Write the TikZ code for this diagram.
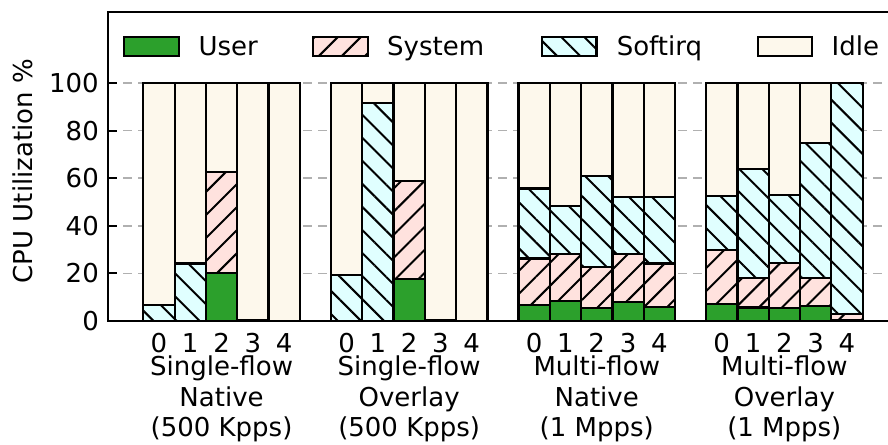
\documentclass[tikz,border=0pt]{standalone}
\usepackage{fontspec}
\setmainfont{DejaVu Sans}
\usetikzlibrary{patterns.meta}

\definecolor{cuser}{HTML}{2CA02C}
\definecolor{csys}{HTML}{FFE2DE}
\definecolor{csoft}{HTML}{E0FFFF}
\definecolor{cidle}{HTML}{FDF8EC}
\definecolor{cgrid}{HTML}{B0B0B0}

\tikzset{
  seg/.style={draw=black, line width=2.2pt},
  usrbar/.style={seg, fill=cuser},
  sysbar/.style={seg, preaction={fill=csys},
    preaction={pattern={Lines[angle=45,distance=16.3pt,line width=2pt]}, pattern color=black}},
  softbar/.style={seg, preaction={fill=csoft},
    preaction={pattern={Lines[angle=-45,distance=16.3pt,line width=2pt]}, pattern color=black}},
  idlebar/.style={seg, fill=cidle},
  gridline/.style={draw=cgrid, line width=1.6pt, dash pattern=on 9pt off 6pt},
  ytick/.style={draw=black, line width=2pt},
  spine/.style={draw=black, line width=2pt},
  lbl/.style={inner sep=0pt},
}

\begin{document}
\begin{tikzpicture}[x=1pt, y=1pt, font=\fontsize{26}{30}\selectfont]
\useasboundingbox (0,0) rectangle (888,444);

% plot area in data units: x in pt, y in percent
\begin{scope}[yshift=123pt, y=2.38pt]
  % horizontal grid
  \foreach \v in {20,40,60,80,100}
    \draw[gridline] (108,\v) -- (888,\v);

  % stacked bars: group / core / user top / system top / softirq top
  \foreach \g/\b/\u/\s/\q in {
      0/0/0/0/6.7, 0/1/0/0/24.2, 0/2/20.3/62.7/62.7, 0/3/0.5/0.5/0.5, 0/4/0/0/0,
      1/0/0/0/19.3, 1/1/0/0/91.5, 1/2/17.5/58.8/58.8, 1/3/0.3/0.3/0.3, 1/4/0/0/0,
      2/0/6.7/26.3/55.7, 2/1/8.5/28/48.3, 2/2/5.3/22.8/60.9, 2/3/8.1/28.2/52, 2/4/6/24.2/52.2,
      3/0/7.1/29.8/52.5, 3/1/5.7/17.9/63.7, 3/2/5.5/24.5/52.9, 3/3/6.3/17.9/74.7, 3/4/0.5/2.8/100}
  {
    \pgfmathsetmacro\xl{143.3+187.6*\g+31.3*\b}
    \pgfmathsetmacro\xr{\xl+31.3}
    \draw[usrbar]  (\xl,0)  rectangle (\xr,\u);
    \draw[sysbar]  (\xl,\u) rectangle (\xr,\s);
    \draw[softbar] (\xl,\s) rectangle (\xr,\q);
    \draw[idlebar] (\xl,\q) rectangle (\xr,100);
    \node[lbl, anchor=base] (core\g\b) at ({\xl+15.65},-13.4) {\b};
  }

  % y ticks and labels
  \foreach \v in {0,20,40,60,80,100} {
    \draw[ytick] (108,\v) -- (117,\v);
    \node[lbl, anchor=east] (yt\v) at (99,\v) {\v};
  }
\end{scope}

% axes frame
\draw[spine] (890,432) -- (108,432) -- (108,123) -- (890,123);

% axis title
\node[lbl, rotate=90] (ylab) at (23,273) {CPU Utilization \%};

% group captions
\foreach \g/\la/\lb/\lc in {
    0/Single-flow/Native/(500 Kpps),
    1/Single-flow/Overlay/(500 Kpps),
    2/Multi-flow/Native/(1 Mpps),
    3/Multi-flow/Overlay/(1 Mpps)}
{
  \pgfmathsetmacro\xc{143.3+187.6*\g+78.25}
  \node[lbl, anchor=base] (ga\g) at (\xc,68) {\la};
  \node[lbl, anchor=base] (gb\g) at (\xc,37.8) {\lb};
  \node[lbl, anchor=base] (gc\g) at (\xc,7.5) {\lc};
}

% legend
\draw[usrbar]  (124,388)   rectangle (179.3,407.3);
\node[lbl, anchor=base west] (legu) at (198.3,388) {User};
\draw[sysbar]  (313.3,388) rectangle (368.3,407.3);
\node[lbl, anchor=base west] (legs) at (387,388) {System};
\draw[softbar] (541.7,388) rectangle (596.5,407.3);
\node[lbl, anchor=base west] (legq) at (616.6,388) {Softirq};
\draw[idlebar] (757.7,388) rectangle (811.7,407.3);
\node[lbl, anchor=base west] (legi) at (831.5,388) {Idle};
\end{tikzpicture}
\end{document}
